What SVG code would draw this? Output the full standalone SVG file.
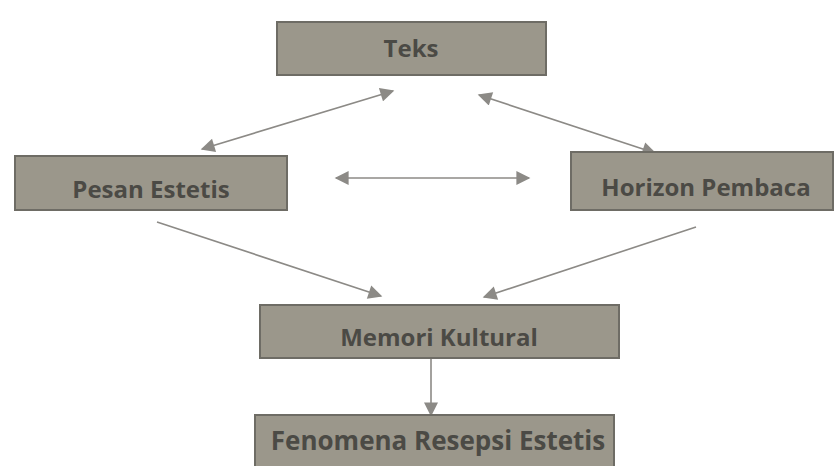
<svg xmlns="http://www.w3.org/2000/svg" width="835" height="466" viewBox="0 0 835 466">
<style>
.box{fill:#9b978b;stroke:#6e6c65;stroke-width:2}
.lbl{font-family:"Open Sans","Liberation Sans",sans-serif;font-weight:bold;font-size:24px;fill:#4b4a45;text-anchor:middle;dominant-baseline:central}
.con{stroke:#8c8a86;stroke-width:1.6;fill:none}
</style>
<defs>
<marker id="ah" viewBox="0 0 10 10" refX="9" refY="5" markerWidth="16" markerHeight="14" markerUnits="userSpaceOnUse" orient="auto-start-reverse">
<path d="M0,0 L10,5 L0,10 z" fill="#8c8a86"/>
</marker>
</defs>
<rect width="835" height="466" fill="#ffffff"/>
<g id="connectors">
<line class="con" x1="393" y1="91" x2="202" y2="149" marker-start="url(#ah)" marker-end="url(#ah)"/>
<line class="con" x1="479" y1="95" x2="655" y2="153" marker-start="url(#ah)" marker-end="url(#ah)"/>
<line class="con" x1="336" y1="178" x2="529" y2="178" marker-start="url(#ah)" marker-end="url(#ah)"/>
<line class="con" x1="157" y1="222" x2="381" y2="296" marker-end="url(#ah)"/>
<line class="con" x1="696" y1="227" x2="484" y2="297" marker-end="url(#ah)"/>
<line class="con" x1="431" y1="358" x2="431" y2="415" marker-end="url(#ah)"/>
</g>
<g id="teks"><rect class="box" x="277" y="22" width="269" height="53"/><text class="lbl" x="411" y="47">Teks</text></g>
<g id="pesan"><rect class="box" x="15" y="156" width="272" height="54"/><text class="lbl" x="151" y="188">Pesan Estetis</text></g>
<g id="horizon"><rect class="box" x="571" y="152" width="262" height="58"/><text class="lbl" x="706" y="186">Horizon Pembaca</text></g>
<g id="memori"><rect class="box" x="260" y="305" width="359" height="53"/><text class="lbl" x="439" y="336">Memori Kultural</text></g>
<g id="fenomena"><rect class="box" x="255" y="415" width="359" height="60"/><text class="lbl" x="438" y="440" style="font-size:26px">Fenomena Resepsi Estetis</text></g>
</svg>
